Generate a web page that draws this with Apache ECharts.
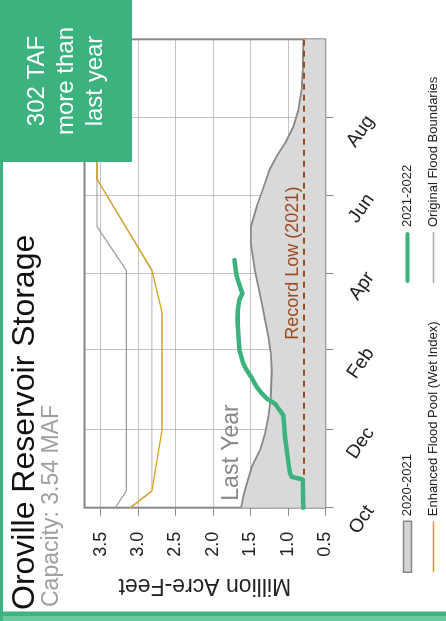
<!DOCTYPE html>
<html><head><meta charset="utf-8">
<script src="https://cdn.jsdelivr.net/npm/echarts@6/dist/echarts.min.js"></script>
<style>
html,body{margin:0;padding:0;width:446px;height:621px;overflow:hidden;background:#fff;}
#chart{position:absolute;left:0;top:0;width:621px;height:446px;transform-origin:0 0;transform:translateY(621px) rotate(-90deg);}
</style></head><body><div id="chart"></div>
<script>
// ---- data (water year Oct 2021 - Sep 2022) ----
const monthTickDates = ['2021-10-01','2021-12-01','2022-02-01','2022-04-01','2022-06-01','2022-08-01'];
const monthLabels = ['Oct','Dec','Feb','Apr','Jun','Aug'];
const axisStartDate = '2021-10-01', axisEndDate = '2022-10-01';
const valueMin = 0.5, valueMax = 3.715, valueStep = 0.5;

// 2020-2021 (last year), shifted onto the same water-year calendar
const lastYearDates = ['2021-10-01','2021-10-10','2021-10-20','2021-11-02','2021-11-15','2021-11-28','2021-12-11','2021-12-26','2022-01-16','2022-01-29','2022-02-11','2022-02-24','2022-03-09','2022-03-22','2022-04-04','2022-04-25','2022-05-08','2022-05-24','2022-06-06','2022-06-21','2022-07-02','2022-07-12','2022-07-25','2022-08-07','2022-08-23','2022-09-07','2022-10-01'];
const lastYearValues = [1.624,1.593,1.548,1.481,1.371,1.304,1.26,1.228,1.215,1.228,1.26,1.304,1.348,1.393,1.44,1.495,1.495,1.415,1.335,1.247,1.148,1.037,0.927,0.86,0.815,0.801,0.793];

// 2021-2022
const thisYearDates = ['2021-10-01','2021-10-23','2021-10-25','2021-10-28','2021-11-05','2021-11-15','2021-11-25','2021-12-06','2021-12-12','2021-12-19','2021-12-21','2021-12-25','2021-12-29','2022-01-03','2022-01-10','2022-01-16','2022-01-21','2022-02-01','2022-02-11','2022-02-24','2022-03-04','2022-03-12','2022-03-17','2022-03-22','2022-03-30','2022-04-04','2022-04-12'];
const thisYearValues = [0.793,0.801,0.948,0.971,0.993,1.015,1.037,1.051,1.06,1.148,1.171,1.281,1.348,1.415,1.481,1.548,1.593,1.647,1.66,1.673,1.668,1.647,1.607,1.637,1.681,1.695,1.713];

// Enhanced Flood Pool (Wet Index)
const enhancedDates = ['2021-10-01','2021-10-14','2021-12-01','2022-03-02','2022-04-04','2022-06-14','2022-10-01'];
const enhancedValues = [3.104,2.815,2.68,2.68,2.815,3.548,3.548];

// Original Flood Boundaries (two curves)
const originalADates = ['2021-10-01','2021-10-14','2022-04-04','2022-05-08','2022-10-01'];
const originalAValues = [3.304,3.157,3.157,3.548,3.548];
const originalBDates = ['2021-10-01','2021-10-14','2022-04-04','2022-06-14','2022-10-01'];
const originalBValues = [3.104,2.815,2.815,3.548,3.548];

const recordLow = 0.79;

// ---- chart ----
const FONT = '"Liberation Sans", Arial, Helvetica, sans-serif';
const T = s => +echarts.time.parse(s);
const zip = (d, v) => d.map((x, i) => [T(x), v[i]]);
const tickTimes = monthTickDates.map(T);

const chart = echarts.init(document.getElementById('chart'), null, {renderer: 'canvas'});
chart.setOption({
  animation: false,
  backgroundColor: '#fff',
  textStyle: {fontFamily: FONT},
  grid: {left: 113.3, right: 39.3, top: 84.5, bottom: 120.7, show: true, borderColor: '#888', borderWidth: 2, backgroundColor: 'transparent'},
  xAxis: {
    type: 'value', min: T(axisStartDate), max: T(axisEndDate),
    axisLine: {show: false},
    axisTick: {show: true, length: 8, lineStyle: {color: '#888', width: 1}, customValues: tickTimes},
    axisLabel: {customValues: tickTimes, rotate: -35, align: 'right', verticalAlign: 'middle', margin: 45,
      fontSize: 19, color: '#222', fontFamily: FONT,
      formatter: v => { const i = tickTimes.indexOf(+v); return i >= 0 ? monthLabels[i] : ''; }},
    splitLine: {show: true, lineStyle: {color: '#888', type: 'dotted', width: 1}}
  },
  yAxis: {
    type: 'value', min: valueMin, max: valueMax, interval: valueStep,
    name: 'Million Acre-Feet', nameLocation: 'middle', nameGap: 66,
    nameTextStyle: {fontSize: 23, color: '#222', fontFamily: FONT},
    axisLine: {show: false},
    axisTick: {show: true, length: 8, lineStyle: {color: '#888', width: 1}},
    axisLabel: {fontSize: 18, color: '#222', margin: 24, showMaxLabel: false, fontFamily: FONT,
      formatter: v => v.toFixed(1)},
    splitLine: {show: true, lineStyle: {color: '#888', type: 'dotted', width: 1}}
  },
  legend: [
    {left: 48, top: 401, padding: 0, orient: 'vertical', itemWidth: 51, itemHeight: 8, itemGap: 13,
     textStyle: {fontSize: 13, color: '#222', fontFamily: FONT},
     data: [
       {name: '2020-2021', icon: 'rect', itemStyle: {color: '#d4d4d4', borderColor: '#888', borderWidth: 1.5}},
       {name: 'Enhanced Flood Pool (Wet Index)', icon: 'path://M0,0H51V1.4H0Z', itemStyle: {color: '#d4a020', borderWidth: 0}}
     ]},
    {left: 338, top: 401, padding: 0, orient: 'vertical', itemWidth: 51, itemHeight: 8, itemGap: 13,
     textStyle: {fontSize: 13, color: '#222', fontFamily: FONT},
     data: [
       {name: '2021-2022', icon: 'path://M2,0H49A2,2,0,0,1,49,4H2A2,2,0,0,1,2,0Z', itemStyle: {color: '#3cb37f', borderWidth: 0}},
       {name: 'Original Flood Boundaries', icon: 'path://M0,0H51V1.4H0Z', itemStyle: {color: '#aaa', borderWidth: 0}}
     ]}
  ],
  series: [
    {name: '2020-2021', type: 'line', data: zip(lastYearDates, lastYearValues), symbol: 'none', z: 1,
     lineStyle: {color: '#888', width: 1.8}, itemStyle: {color: '#d4d4d4'},
     areaStyle: {color: '#d9d9d9', opacity: 1, origin: 'start'},
     markPoint: {symbol: 'circle', symbolSize: 0, silent: true,
       data: [{coord: [T(lastYearDates[0]), lastYearValues[0]], value: 'Last Year'}],
       label: {show: true, position: [7, -21], align: 'left', verticalAlign: 'top', formatter: 'Last Year', fontSize: 23, color: '#888', fontFamily: FONT}},
     markLine: {symbol: 'none', silent: true, z: 3,
       lineStyle: {color: '#9a4b1e', type: [6, 5], width: 2},
       label: {show: true, position: 'insideStartTop', formatter: 'Record Low (2021)', fontSize: 18, color: '#9a4b1e', distance: [168, 2], fontFamily: FONT},
       data: [{yAxis: recordLow}]}
    },
    {name: 'Original Flood Boundaries', type: 'line', data: zip(originalBDates, originalBValues), symbol: 'none', z: 2,
     lineStyle: {color: '#c4c4c4', width: 1.2}, itemStyle: {color: '#aaa'}},
    {name: 'Original Flood Boundaries', type: 'line', data: zip(originalADates, originalAValues), symbol: 'none', z: 2,
     lineStyle: {color: '#9a9a9a', width: 1.2}, itemStyle: {color: '#aaa'}},
    {name: 'Enhanced Flood Pool (Wet Index)', type: 'line', data: zip(enhancedDates, enhancedValues), symbol: 'none', z: 3,
     lineStyle: {color: '#d4a020', width: 1.3}, itemStyle: {color: '#d4a020'}},
    {name: '2021-2022', type: 'line', data: zip(thisYearDates, thisYearValues), symbol: 'none', z: 6,
     lineStyle: {color: '#3cb37f', width: 4.5, cap: 'round', join: 'round'}, itemStyle: {color: '#3cb37f'}}
  ],
  graphic: [
    {type: 'rect', z: 100, shape: {x: 0, y: 0, width: 5, height: 446}, style: {fill: '#6cc8a0'}},
    {type: 'rect', z: 100, shape: {x: 5, y: 0, width: 4.5, height: 446}, style: {fill: '#3db37f'}},
    {type: 'rect', z: 100, shape: {x: 0, y: 0, width: 621, height: 3}, style: {fill: '#3db37f'}},
    {type: 'rect', z: 100, shape: {x: 459, y: 0, width: 162, height: 132}, style: {fill: '#3cb27e'}},
    {type: 'text', z: 101, style: {x: 540, y: 66, text: '302 TAF\nmore than\nlast year', fill: '#fff', font: '24px ' + FONT, align: 'center', verticalAlign: 'middle', lineHeight: 29}},
    {type: 'text', z: 101, style: {x: 11, y: 9, text: 'Oroville Reservoir Storage', fill: '#111', font: '32px ' + FONT, align: 'left', verticalAlign: 'top'}},
    {type: 'text', z: 101, style: {x: 14, y: 40, text: 'Capacity: 3.54 MAF', fill: '#a0a0a0', font: '23px ' + FONT, align: 'left', verticalAlign: 'top'}}
  ]
});
</script></body></html>
